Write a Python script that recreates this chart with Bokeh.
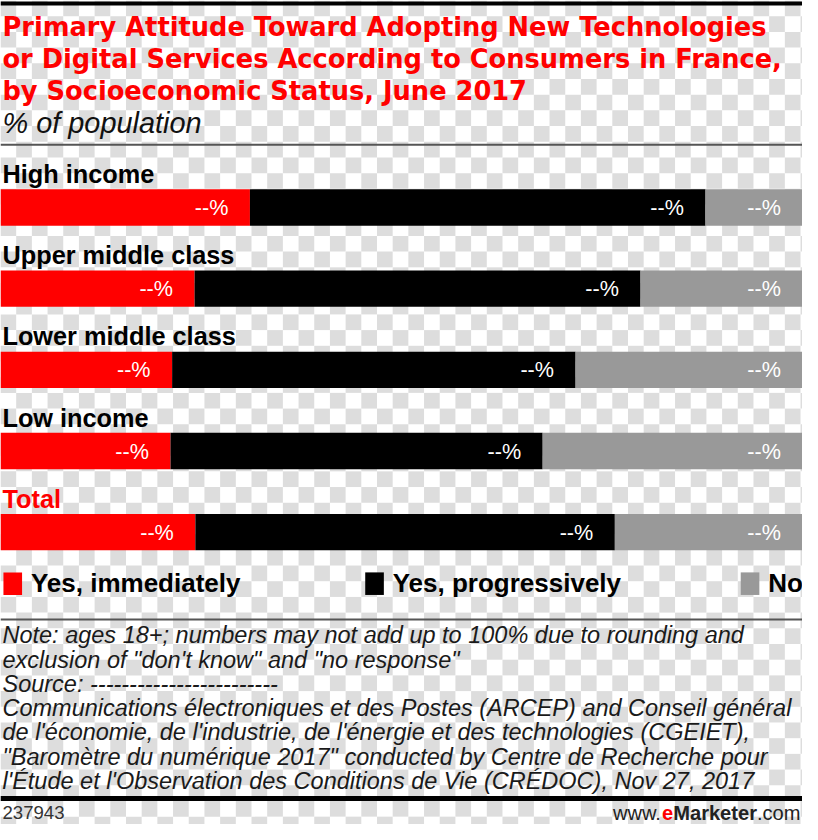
from bokeh.plotting import figure
from bokeh.models import Range1d
from bokeh.core.properties import value
from bokeh.embed import file_html
from bokeh.resources import INLINE
import numpy as np

# ---------------- data ----------------
categories = ["High income", "Upper middle class", "Lower middle class", "Low income", "Total"]
yes_immediately = [31.1, 24.2, 21.4, 21.2, 24.3]
yes_progressively = [56.8, 55.6, 50.3, 46.4, 52.3]
no_answer = [12.1, 20.2, 28.3, 32.4, 23.4]
series_names = ["Yes, immediately", "Yes, progressively", "No"]
value_labels = ["--%", "--%", "--%", "--%", "--%"]

title_lines = [
    "Primary Attitude Toward Adopting New Technologies",
    "or Digital Services According to Consumers in France,",
    "by Socioeconomic Status, June 2017",
]
subtitle = "% of population"
note_lines = [
    "Note: ages 18+; numbers may not add up to 100% due to rounding and",
    "exclusion of \"don't know\" and \"no response\"",
    "Source: ------------------------",
    "Communications électroniques et des Postes (ARCEP) and Conseil général",
    "de l'économie, de l'industrie, de l'énergie et des technologies (CGEIET),",
    "\"Baromètre du numérique 2017\" conducted by Centre de Recherche pour",
    "l'Étude et l'Observation des Conditions de Vie (CRÉDOC), Nov 27, 2017",
]
chart_id = "237943"

# ---------------- layout ----------------
REF_W, REF_H = 818, 840
W, H = 802, 824
s = W / REF_W
RED, BLACK, GRAY = "#ff0000", "#000000", "#999999"
colors = [RED, BLACK, GRAY]
FONT = "Liberation Sans"

def fs(px):
    return f"{px * s:.1f}px"

p = figure(width=W, height=H, x_range=Range1d(0, 100), y_range=Range1d(REF_H, 0),
           output_backend="svg", toolbar_location=None, min_border=0,
           outline_line_color=None, background_fill_color="white",
           border_fill_color="white")
p.extra_x_ranges = {"px": Range1d(0, REF_W)}
p.xaxis.visible = False
p.yaxis.visible = False
p.xgrid.visible = False
p.ygrid.visible = False

# checkerboard (transparency pattern of the original picture)
sq = 16
L, R, T, B = [], [], [], []
for i in range(REF_H // sq + 2):
    for j in range(REF_W // sq + 2):
        if (i + j) % 2 == 0:
            L.append(j * sq); R.append(j * sq + sq); T.append(i * sq); B.append(i * sq + sq)
p.quad(left=L, right=R, top=T, bottom=B, x_range_name="px",
       fill_color="#dddddd", line_color=None)

def txt(x, y, t, size, color="black", style="normal", align="left", font=FONT):
    p.text(x=[x], y=[y], text=[t], x_range_name="px", text_font=value(font),
           text_font_size=fs(size), text_font_style=style, text_color=color,
           text_align=align, text_baseline="middle")

def hline(y0, y1, color):
    p.quad(left=[0], right=[REF_W], top=[y0], bottom=[y1], x_range_name="px",
           fill_color=color, line_color=None)

# rules
hline(1, 5, "black")
hline(146, 148, "#555555")
hline(630, 632, "#555555")
hline(811, 816, "black")

# title & subtitle
for k, line in enumerate(title_lines):
    txt(2, 27 + k * 32.5, line, 26.2, color=RED, style="bold", font="DejaVu Sans")
txt(2, 125, subtitle, 29.5, color="#111111", style="italic")

# bars
n = len(categories)
bar_y = np.array([211 + i * 82.75 for i in range(n)])
label_y = bar_y - 34
vals = np.array([yes_immediately, yes_progressively, no_answer])
lefts = np.vstack([np.zeros(n), np.cumsum(vals, axis=0)[:-1]])
rights = np.cumsum(vals, axis=0)
for k in range(3):
    p.hbar(y=bar_y, left=lefts[k], right=rights[k], height=37,
           fill_color=colors[k], line_color=None)
    p.text(x=rights[k], y=bar_y, text=value_labels, text_color="white",
           text_font=value(FONT), text_font_size=fs(22), text_align="right",
           text_baseline="middle", x_offset=-22 * s)

for i, c in enumerate(categories):
    txt(2, label_y[i], c, 25.8, color=RED if c == "Total" else "black", style="bold")

# legend
leg_x = [3, 372, 755]
for k, name in enumerate(series_names):
    p.quad(left=[leg_x[k]], right=[leg_x[k] + 19], top=[583], bottom=[606],
           x_range_name="px", fill_color=colors[k], line_color=None)
    txt(leg_x[k] + 28, 594, name, 26.5, style="bold")

# notes
for k, line in enumerate(note_lines):
    txt(2, 647 + k * 24.8, line, 24, color="#1a1a1a", style="italic")

# footer
txt(2, 828, chart_id, 19, color="#333333")
f_size = 20.5
pieces = [("www.", "normal", "#222222", 2.444), ("e", "bold", RED, 0.556),
          ("Marketer", "bold", "#222222", 4.168), (".com", "normal", "#222222", 2.167)]
x_right = 816
x0 = x_right - sum(w for *_, w in pieces) * f_size
for t, st, col, w in pieces:
    txt(x0, 828, t, f_size, color=col, style=st)
    x0 += w * f_size

open("out.html", "w").write(file_html(p, INLINE))
